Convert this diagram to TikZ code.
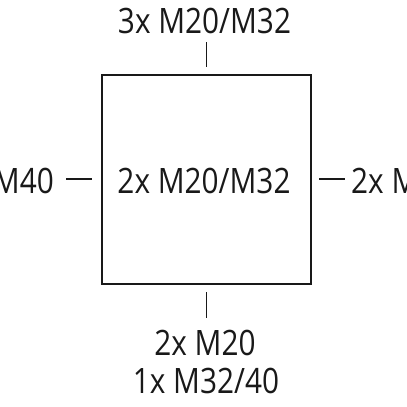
\documentclass[tikz,border=0pt]{standalone}
\usepackage{fontspec}
\setmainfont[FakeStretch=0.85]{Open Sans}
\begin{document}
\begin{tikzpicture}[x=1pt,y=-1pt,
  lbl/.style={font=\fontsize{35}{40}\selectfont, inner sep=0pt, anchor=base, text=black!90},
  tick/.style={line width=1.8pt, draw=black!90},
  boxstyle/.style={draw=black!90, line width=1.6pt, minimum width=209pt, minimum height=209pt, inner sep=0pt}]
\useasboundingbox (0,0) rectangle (407,407);
\clip (0,0) rectangle (407,407);
\node[boxstyle] (box) at (206.5,179.5) {};
\node[lbl] (mid) at (204,193) {2x M20/M32};
\node[lbl] (top) at (204.5,33) {3x M20/M32};
\node[lbl] (bot1) at (205,355) {2x M20};
\node[lbl] (bot2) at (206,393) {1x M32/40};
\node[lbl, anchor=base west] (right) at (351,193) {2x M};
\node[lbl, anchor=base east] (left) at (54,193) {M40};
\coordinate (t1) at (206.5,42); \coordinate (t2) at (206.5,67);
\coordinate (b1) at (206.5,292); \coordinate (b2) at (206.5,318);
\coordinate (l1) at (66,179); \coordinate (l2) at (92,179);
\coordinate (r1) at (319,179); \coordinate (r2) at (345,179);
\draw[tick] (t1) -- (t2);
\draw[tick] (b1) -- (b2);
\draw[tick] (l1) -- (l2);
\draw[tick] (r1) -- (r2);
\end{tikzpicture}
\end{document}
